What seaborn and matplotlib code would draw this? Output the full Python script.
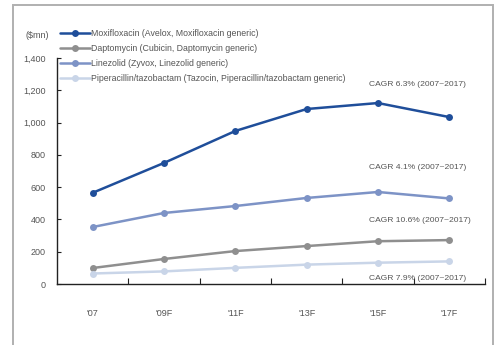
import matplotlib
matplotlib.use("Agg")
import matplotlib.pyplot as plt
from matplotlib.patches import Rectangle
from matplotlib.ticker import FixedLocator, FuncFormatter
import seaborn as sns
import pandas as pd

years = ["'07", "'09F", "'11F", "'13F", "'15F", "'17F"]
moxifloxacin = [565, 750, 948, 1084, 1121, 1034]
daptomycin = [99, 155, 204, 235, 265, 272]
linezolid = [353, 440, 483, 533, 570, 530]
piperacillin = [65, 78, 100, 120, 132, 140]

series_names = [
    "Moxifloxacin (Avelox, Moxifloxacin generic)",
    "Daptomycin (Cubicin, Daptomycin generic)",
    "Linezolid (Zyvox, Linezolid generic)",
    "Piperacillin/tazobactam (Tazocin, Piperacillin/tazobactam generic)",
]
series_values = [moxifloxacin, daptomycin, linezolid, piperacillin]
colors = ["#1f4e9a", "#8f8f8f", "#7d93c6", "#c9d5e8"]

cagr_labels = ["CAGR 6.3% (2007~2017)", "CAGR 4.1% (2007~2017)",
               "CAGR 10.6% (2007~2017)", "CAGR 7.9% (2007~2017)"]
cagr_y = [1233, 719, 396, 37]

rows = []
for name, vals in zip(series_names, series_values):
    for i, v in enumerate(vals):
        rows.append({"year_idx": i, "value": v, "series": name})
df = pd.DataFrame(rows)

sns.set_theme(style="white")
plt.rcParams["font.family"] = ["Liberation Sans", "DejaVu Sans"]

fig = plt.figure(figsize=(4.99, 3.45), dpi=100)
ax = fig.add_axes([57 / 499, 1 - 284 / 345, (485 - 57) / 499, (284 - 58) / 345])

sns.lineplot(data=df, x="year_idx", y="value", hue="series",
             hue_order=series_names, palette=colors, marker="o",
             markersize=5, markeredgewidth=0, linewidth=1.8, ax=ax)

ax.set_xlim(-0.5, 5.5)
ax.set_ylim(0, 1400)
ax.set_xlabel("")
ax.set_ylabel("")

# category labels centered, tick marks on the boundaries
ax.set_xticks(range(len(years)))
ax.set_xticklabels(years)
ax.xaxis.set_minor_locator(FixedLocator([i + 0.5 for i in range(0, 6)]))
ax.tick_params(axis="x", which="major", length=0, pad=18, labelsize=6.5,
               labelcolor="#555555")
ax.tick_params(axis="x", which="minor", direction="in", length=4,
               width=0.8, color="#222222", bottom=True)

ax.set_yticks(range(0, 1401, 200))
ax.yaxis.set_major_formatter(FuncFormatter(lambda v, p: f"{int(v):,}"))
ax.tick_params(axis="y", direction="in", length=3, width=0.8, color="#222222",
               left=True, labelsize=6.5, labelcolor="#555555", pad=8)

for side in ["top", "right"]:
    ax.spines[side].set_visible(False)
for side in ["left", "bottom"]:
    ax.spines[side].set_color("#222222")
    ax.spines[side].set_linewidth(1.0)

for label, y in zip(cagr_labels, cagr_y):
    ax.text(3.88, y, label, fontsize=6.1, color="#555555", va="center", ha="left")

ax.legend(loc="upper left", bbox_to_anchor=(60 / 499, 1 - 29 / 345),
          bbox_transform=fig.transFigure, frameon=False,
          fontsize=6.3, handlelength=3.4, handletextpad=0.15,
          labelspacing=0.7, borderaxespad=0, borderpad=0,
          labelcolor="#555555")

fig.text(37 / 499, 1 - 35 / 345, "($mn)", fontsize=6.5, color="#555555",
         ha="center", va="center")

fig.patches.append(Rectangle((13 / 499, -0.05), (493 - 13) / 499,
                             1.05 - 5 / 345, transform=fig.transFigure,
                             fill=False, edgecolor="#b0b0b0", linewidth=1.4))

fig.savefig("out.png", dpi=100)
